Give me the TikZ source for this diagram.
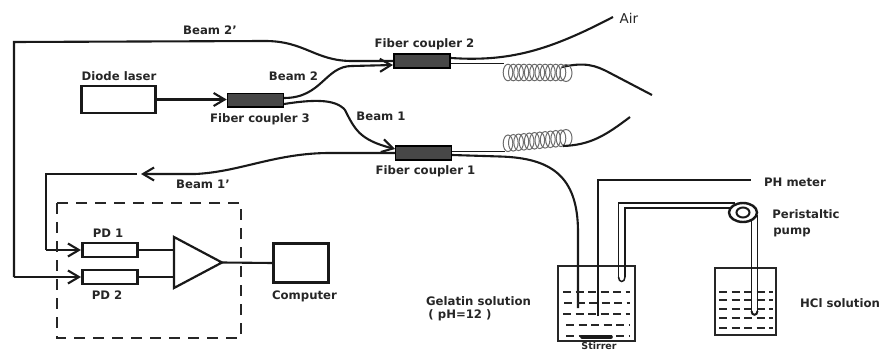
\documentclass[tikz,border=0pt]{standalone}
\usepackage{fontspec}
\setmainfont{DejaVu Sans}
\usetikzlibrary{arrows.meta,shapes.geometric}
\tikzset{
 lbl/.style={font=\bfseries\fontsize{11.7}{13}\selectfont,text=black!85,inner sep=0pt,align=left},
 wire/.style={line width=2.1pt,black!90},
 thin wire/.style={line width=1.6pt,black!90},
 arrowed/.style={-{Straight Barb[length=11pt,width=13pt]},wire},
 boxn/.style={draw=black!90,line width=2.3pt,fill=white,inner sep=0pt,minimum width=#1},
 coupler/.style={draw=black,line width=1.6pt,fill=black!72,inner sep=0pt,minimum width=56pt,minimum height=13.5pt},
 pdbox/.style={draw=black!90,line width=2.2pt,fill=white,inner sep=0pt,minimum width=55pt,minimum height=13.5pt},
 beaker/.style={line width=1.8pt,black!85},
 liq/.style={line width=1.6pt,black!85,dash pattern=on 8pt off 4.5pt},
 coilstyle/.style={line width=1pt,black!58},
 tube/.style={line width=1.5pt,black!90},
}
\begin{document}
\begin{tikzpicture}[x=1pt,y=-1pt]
\useasboundingbox (0,0) rectangle (879,350);
% boxes
\node[boxn=74pt,minimum height=27pt] (laser) at (118.5,99.5) {};
\node[lbl] at (119,76) {Diode laser};
\node[coupler] (c3) at (255.5,100.3) {};
\node[coupler] (c2) at (422,61) {};
\node[coupler] (c1) at (423.5,153) {};
\node[lbl] at (260,119.5) {Fiber coupler 3};
\node[lbl] at (424.5,44) {Fiber coupler 2};
\node[lbl] at (425.5,171) {Fiber coupler 1};
\node[lbl] at (210,30) {Beam 2'};
\node[lbl] at (293.5,76) {Beam 2};
\node[lbl] at (381,116) {Beam 1};
\node[lbl] at (203,184) {Beam 1'};
\node[font=\fontsize{13.5}{15}\selectfont,text=black!85,inner sep=0pt] at (629,18.5) {Air};
% laser to coupler 3
\draw[arrowed] (laser.east) -- (c3.west |- laser.east);
% coupler 3 outputs
\coordinate (c2a) at (393,61);
\coordinate (c2b) at (393,65);
\coordinate (c1a) at (395,149);
\coordinate (c1b) at (395,153);
\draw[arrowed] (284,98) .. controls (322,98) and (325,66) .. (352,66) -- (c2b);
\draw[arrowed] (284,104) .. controls (310,100) and (335,98) .. (345,110) .. controls (355,130) and (360,140) .. (c1a);
% beam 2'
\coordinate (bt) at (14,42);
\coordinate (bb) at (14,277);
\coordinate (pd2in) at (81,277);
\draw[wire] (c2a) -- (352,61) .. controls (315,61) and (305,41) .. (265,41) -- (bt) -- (bb);
\draw[arrowed] (bb) -- (pd2in);
% beam 1'
\coordinate (b1t) at (46,174);
\coordinate (b1b) at (46,250);
\coordinate (pd1in) at (81,250);
\coordinate (b1a) at (141,174);
\draw[arrowed] (c1b) -- (330,153) .. controls (275,153) and (240,172) .. (195,174) -- (b1a);
\draw[wire] (137,174) -- (b1t) -- (b1b);
\draw[arrowed] (b1b) -- (pd1in);
% dashed box
\draw[line width=2.5pt,black!85,dash pattern=on 11pt off 8pt] (57,203) rectangle (241,338);
% PD & amp
\node[pdbox] (pd1) at (110,250) {};
\node[pdbox] (pd2) at (110,277) {};
\node[lbl] at (108,233) {PD 1};
\node[lbl] at (107,295.5) {PD 2};
\coordinate (t1) at (174,237);
\coordinate (t2) at (174,288);
\coordinate (t3) at (222,262.5);
\draw[line width=2.2pt,black!90,line join=miter,fill=white] (t1) -- (t3) -- (t2) -- cycle;
\node[boxn=55pt,minimum height=39pt] (comp) at (301,263) {};
\node[lbl] at (304.5,296.5) {Computer};
\draw[wire] (pd1.east) -- (174,250);
\draw[wire] (pd2.east) -- (174,277);
\draw[wire] (t3) -- (comp.west);
% top fibers
\coordinate (air) at (613,17);
\draw[wire] (451,58) .. controls (510,62) and (550,50) .. (air);
\coordinate (topend) at (652,95);
\draw[thin wire] (451,63.5) -- (504,63.5);
\draw[wire] (562,67) .. controls (585,62) and (595,65) .. (610,73) -- (topend);
% coils
\foreach \i in {0,...,10}{
 \draw[coilstyle] ({508+\i*5.3},72.5) ellipse [x radius=4.8pt,y radius=8.3pt];
 \draw[coilstyle] ({508+\i*5.3},{143.3-\i*.5}) ellipse [x radius=4.8pt,y radius=8.3pt];
}
\draw[coilstyle] (566,73) ellipse [x radius=6pt,y radius=8.5pt];
\draw[coilstyle] (566,138) ellipse [x radius=6pt,y radius=8.5pt];
% bottom fibers
\draw[thin wire] (452,151.5) -- (505,151.5);
\coordinate (botend) at (630,117);
\draw[wire] (563,146) .. controls (590,145) and (605,136) .. (botend);
% Beakers
\draw[beaker] (558,266) rectangle (635,341);
\draw[beaker] (715,268) rectangle (776,335);
% fiber to beaker
\draw[wire] (452,155) -- (500,156.5) .. controls (550,158) and (578,175) .. (578,232) -- (578,308);
% PH meter
\coordinate (phm) at (751,180);
\draw[tube,line width=1.7pt] (598,316) -- (598,180) -- (phm);
\draw[line width=2.6pt,black!90] (598,290) -- (598,316);
\node[lbl] at (795,182) {PH meter};
% liquid 1
\foreach \y/\xa/\xb in {292/563/630,303/564/630,314/563/630,325/566/630,336/566/630}{
 \draw[liq] (\xa,\y) -- (\xb,\y);}
\draw[line width=3.6pt,black!90,line cap=round] (582,337) -- (611,337);
% liquid 2
\foreach \y in {292,300,309,318,328}{
 \draw[liq] (719,\y) -- (773,\y);}
% tube
\draw[tube] (618.5,277) -- (618.5,203) -- (735,203);
\draw[tube] (625,277) -- (625,208) -- (733,208);
\draw[tube] (618.5,277) .. controls (618.5,283) and (625,283) .. (625,277);
\draw[tube] (751.5,215) -- (751.5,311);
\draw[tube] (757.5,215) -- (757.5,311);
\draw[tube,line width=2pt] (751.5,311) .. controls (751.5,316) and (757.5,316) .. (757.5,311);
% pump
\node[ellipse,draw=black!90,line width=2.4pt,fill=white,inner sep=0pt,minimum width=28pt,minimum height=19pt] (pump) at (743,212.5) {};
\node[ellipse,draw=black!90,line width=2pt,inner sep=0pt,minimum width=13pt,minimum height=10pt] (pumpin) at (743,212.5) {};
\node[lbl] at (806,214) {Peristaltic};
\node[lbl] at (792,232) {pump};
\node[lbl] at (478.5,301) {Gelatin solution};
\node[lbl] at (460,315) {( pH=12 )};
\node[lbl] at (840,303) {HCl solution};
\node[lbl,font=\bfseries\fontsize{9.5}{10}\selectfont] at (599,345.5) {Stirrer};
\end{tikzpicture}
\end{document}
